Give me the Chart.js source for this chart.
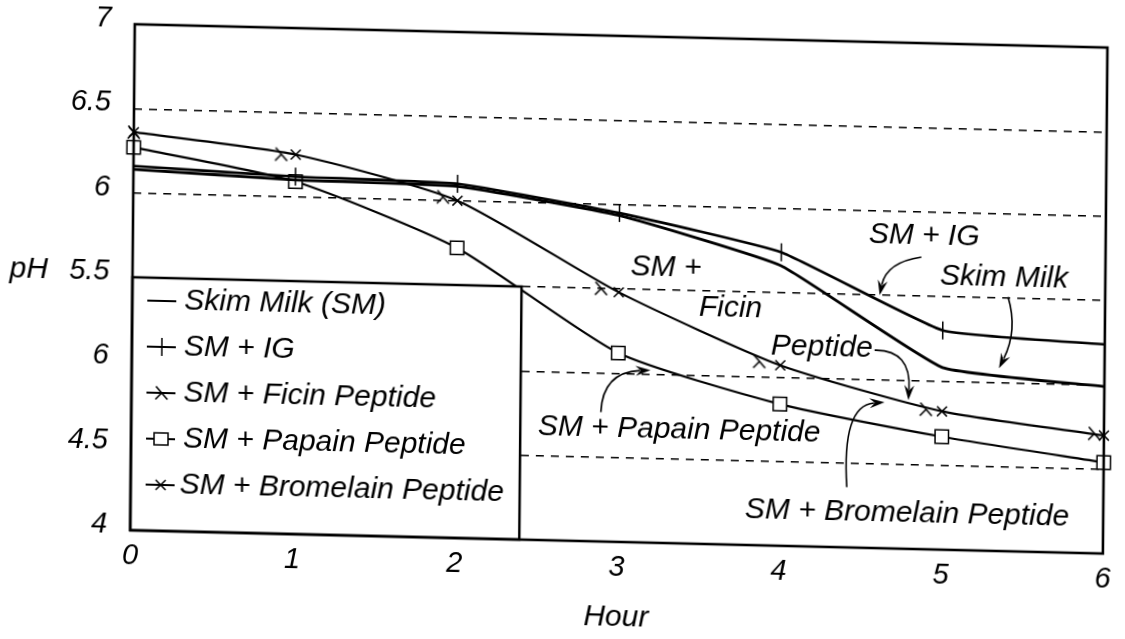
<!DOCTYPE html>
<html>
<head>
<meta charset="utf-8">
<title>pH vs Hour</title>
<script src="https://cdn.jsdelivr.net/npm/chart.js@4.4.0/dist/chart.umd.min.js"></script>
<style>
html, body { margin:0; padding:0; background:#fff; overflow:hidden; }
/* the scanned figure is slightly skewed, so the whole canvas is too */
#wrap { width:1125px; height:639px; transform-origin:0 0; transform:matrix(1, 0.024, -0.009, 1, 0, 0); }
</style>
</head>
<body>
<div id="wrap"><canvas id="mycanvas" width="1125" height="639"></canvas></div>
<script>
var hours = [0, 1, 2, 3, 4, 5, 6];
var ficinHours = [0, 0.91, 1.91, 2.89, 3.87, 4.90, 5.94];

var skimMilk    = [6.14, 6.10, 6.085, 5.935, 5.66, 5.08, 4.99];
var smIG        = [6.16, 6.12, 6.10, 5.95, 5.74, 5.30, 5.24];
var smFicin     = [6.36, 6.25, 6.02, 5.50, 5.09, 4.83, 4.71];
var smPapain    = [6.27, 6.09, 5.72, 5.12, 4.84, 4.67, 4.54];
var smBromelain = [6.36, 6.25, 6.00, 5.48, 5.07, 4.82, 4.70];

var seriesNames = ["Skim Milk (SM)", "SM + IG", "SM + Ficin Peptide", "SM + Papain Peptide", "SM + Bromelain Peptide"];

var yTickValues = [4, 4.5, 5, 5.5, 6, 6.5, 7];
var yTickLabels = ["4", "4.5", "6", "5.5", "6", "6.5", "7"];

var FONT = "'Liberation Sans', Arial, Helvetica, sans-serif";

// callout texts and arrows, placed in data units (hour, pH)
var notes = [
	{text: "SM + IG", h: 4.88, p: 5.86},
	{text: "Skim Milk", h: 5.375, p: 5.62},
	{text: "SM +", h: 3.29, p: 5.63},
	{text: "Ficin", h: 3.69, p: 5.40},
	{text: "Peptide", h: 4.255, p: 5.18},
	{text: "SM + Papain Peptide", h: 3.38, p: 4.67},
	{text: "SM + Bromelain Peptide", h: 4.79, p: 4.21}
];
var arrows = [
	{from: [4.864, 5.731], ctrl: [4.65, 5.697], to: [4.609, 5.50]},
	{from: [5.401, 5.507], ctrl: [5.464, 5.312], to: [5.349, 5.084]},
	{from: [4.581, 5.173], ctrl: [4.808, 5.179], to: [4.792, 4.882]},
	{from: [2.896, 4.767], ctrl: [2.905, 5.004], to: [3.200, 5.023]},
	{from: [4.417, 4.357], ctrl: [4.381, 4.842], to: [4.645, 4.866]}
];
var legendTop = 5.5, legendRight = 2.4;

function pts(xs, ys) {
	var out = [];
	for (var i in ys) {
		out.push({x: xs[i], y: ys[i]});
	}
	return out;
}

// lambda shaped marker used for the ficin series
function lambdaMark() {
	var c = document.createElement("canvas");
	c.width = 16; c.height = 16;
	var g = c.getContext("2d");
	g.strokeStyle = "#000";
	g.lineWidth = 1.6;
	g.beginPath();
	g.moveTo(2.5, 1.5); g.lineTo(14, 14.5);
	g.moveTo(8.2, 8); g.lineTo(2, 14.5);
	g.stroke();
	return c;
}
var ficinMark = lambdaMark();

function drawMarker(ctx, kind, x, y) {
	ctx.beginPath();
	if (kind == 1) {
		ctx.moveTo(x, y - 9); ctx.lineTo(x, y + 9);
		ctx.stroke();
	} else if (kind == 2) {
		ctx.drawImage(ficinMark, x - 8, y - 8);
	} else if (kind == 3) {
		ctx.fillStyle = "#fff";
		ctx.fillRect(x - 7, y - 6, 14, 12);
		ctx.strokeRect(x - 7, y - 6, 14, 12);
	} else if (kind == 4) {
		ctx.moveTo(x - 5, y - 5); ctx.lineTo(x + 5, y + 5);
		ctx.moveTo(x + 5, y - 5); ctx.lineTo(x - 5, y + 5);
		ctx.stroke();
	}
}

function arrowTo(ctx, a, xs, ys) {
	var x0 = xs.getPixelForValue(a.from[0]), y0 = ys.getPixelForValue(a.from[1]);
	var cx = xs.getPixelForValue(a.ctrl[0]), cy = ys.getPixelForValue(a.ctrl[1]);
	var x1 = xs.getPixelForValue(a.to[0]), y1 = ys.getPixelForValue(a.to[1]);
	var ang = Math.atan2(y1 - cy, x1 - cx);
	var len = 15, half = 5;
	ctx.beginPath();
	ctx.moveTo(x0, y0);
	ctx.quadraticCurveTo(cx, cy, x1 - Math.cos(ang) * len * 0.7, y1 - Math.sin(ang) * len * 0.7);
	ctx.stroke();
	ctx.beginPath();
	ctx.moveTo(x1, y1);
	ctx.lineTo(x1 - Math.cos(ang) * len - Math.sin(ang) * half, y1 - Math.sin(ang) * len + Math.cos(ang) * half);
	ctx.lineTo(x1 - Math.cos(ang) * len * 0.65, y1 - Math.sin(ang) * len * 0.65);
	ctx.lineTo(x1 - Math.cos(ang) * len + Math.sin(ang) * half, y1 - Math.sin(ang) * len - Math.cos(ang) * half);
	ctx.closePath();
	ctx.fill();
}

var decor = {
	id: "decor",
	afterDatasetsDraw: function(chart) {
		var ctx = chart.ctx, a = chart.chartArea;
		var xs = chart.scales.x, ys = chart.scales.y;
		ctx.save();
		ctx.strokeStyle = "#000";
		ctx.fillStyle = "#000";

		// legend box sitting in the lower left corner of the plot
		var lx = a.left, ly = ys.getPixelForValue(legendTop), rx = xs.getPixelForValue(legendRight);
		ctx.fillStyle = "#fff";
		ctx.fillRect(lx, ly, rx - lx, a.bottom - ly);
		ctx.lineWidth = 2.5;
		ctx.strokeRect(lx, ly, rx - lx, a.bottom - ly);
		ctx.font = "italic 30px " + FONT;
		ctx.textBaseline = "middle";
		ctx.textAlign = "left";
		for (var i = 0; i < seriesNames.length; i++) {
			var ry = ly + 23 + i * 46;
			ctx.lineWidth = 2;
			ctx.beginPath();
			ctx.moveTo(lx + 15, ry); ctx.lineTo(lx + 44, ry);
			ctx.stroke();
			ctx.lineWidth = 1.5;
			drawMarker(ctx, i, lx + 30, ry);
			ctx.fillStyle = "#000";
			ctx.fillText(seriesNames[i], lx + (i == 4 ? 49 : 52), ry);
		}

		// plot frame
		ctx.lineWidth = 2.6;
		ctx.strokeRect(a.left, a.top, a.right - a.left, a.bottom - a.top);

		// callouts
		ctx.textAlign = "center";
		for (var j in notes) {
			ctx.fillText(notes[j].text, xs.getPixelForValue(notes[j].h), ys.getPixelForValue(notes[j].p));
		}
		ctx.lineWidth = 1.6;
		for (var k in arrows) {
			arrowTo(ctx, arrows[k], xs, ys);
		}

		// y axis name, written level with the 5.5 tick
		ctx.textAlign = "left";
		ctx.fillText("pH", 12, ys.getPixelForValue(5.5) - 5);
		ctx.restore();
	}
};

var tickFont = {family: FONT, size: 29, style: "italic"};

var chartdata = {
	datasets: [
		{
			label: seriesNames[0],
			data: pts(hours, skimMilk),
			showLine: true,
			borderColor: "#000",
			borderWidth: 2.8,
			pointRadius: 0,
			tension: 0.12
		},
		{
			label: seriesNames[1],
			data: pts(hours, smIG),
			showLine: true,
			borderColor: "#000",
			borderWidth: 2.6,
			pointStyle: "line",
			rotation: 90,
			pointRadius: 9,
			pointBorderWidth: 1.5,
			pointBorderColor: "#000",
			tension: 0.12
		},
		{
			label: seriesNames[2],
			data: pts(ficinHours, smFicin),
			showLine: false,
			pointStyle: ficinMark,
			pointRadius: 6
		},
		{
			label: seriesNames[3],
			data: pts(hours, smPapain),
			showLine: true,
			borderColor: "#000",
			borderWidth: 2.2,
			pointStyle: "rect",
			pointRadius: 9.5,
			pointBorderWidth: 1.5,
			pointBorderColor: "#000",
			pointBackgroundColor: "#fff",
			tension: 0.2
		},
		{
			label: seriesNames[4],
			data: pts(hours, smBromelain),
			showLine: true,
			borderColor: "#000",
			borderWidth: 2.2,
			pointStyle: "crossRot",
			pointRadius: 7,
			pointBorderWidth: 1.5,
			pointBorderColor: "#000",
			tension: 0.2
		}
	]
};

var ctx = document.getElementById("mycanvas");
var LineGraph = new Chart(ctx, {
	type: "scatter",
	data: chartdata,
	plugins: [decor],
	options: {
		responsive: false,
		animation: false,
		clip: false,
		layout: {padding: {left: 0, top: 21, right: 13, bottom: 0}},
		plugins: {legend: {display: false}, tooltip: {enabled: false}},
		scales: {
			x: {
				type: "linear",
				min: 0,
				max: 6,
				afterFit: function(s) { s.height = 112; },
				grid: {display: false, drawTicks: false},
				border: {display: false},
				ticks: {stepSize: 1, padding: 9, color: "#000", font: tickFont, maxRotation: 0},
				title: {display: true, text: "Hour", color: "#000", font: {family: FONT, size: 30, style: "italic"}, padding: {top: 0, bottom: 18}}
			},
			y: {
				type: "linear",
				min: 4,
				max: 7,
				afterFit: function(s) {
					s.width = 135;
					s.paddingTop = 0;
					s.paddingBottom = 0;
				},
				afterBuildTicks: function(s) {
					s.ticks = yTickValues.map(function(v) { return {value: v}; });
				},
				grid: {
					drawTicks: false,
					lineWidth: 1.5,
					borderDash: [8, 7],
					color: function(c) {
						if (c.tick && (c.tick.value == 4 || c.tick.value == 7)) return "rgba(0,0,0,0)";
						return "#000";
					}
				},
				border: {display: false, dash: [8, 7]},
				ticks: {
					padding: 23,
					labelOffset: -5,
					color: "#000",
					font: tickFont,
					callback: function(v) { return yTickLabels[yTickValues.indexOf(v)]; }
				}
			}
		}
	}
});
</script>
</body>
</html>
